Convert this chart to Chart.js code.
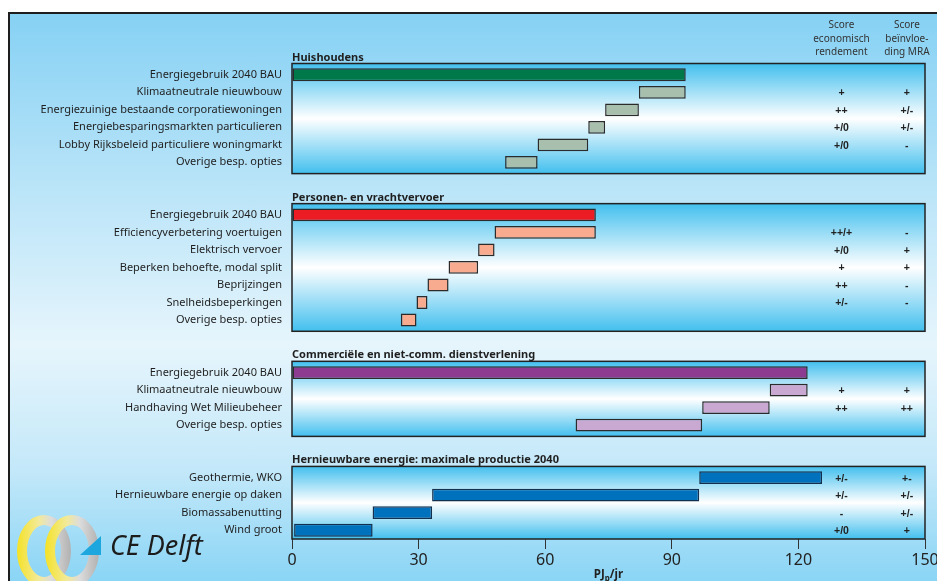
<!DOCTYPE html>
<html lang="nl">
<head>
<meta charset="utf-8">
<title>Besparingsopties en hernieuwbare energie 2040</title>
<script src="https://cdn.jsdelivr.net/npm/chart.js@4.4.1/dist/chart.umd.min.js"></script>
<style>
  html, body { margin: 0; padding: 0; background: #fff; overflow: hidden; }
  #wrap { position: relative; width: 937px; height: 581px; overflow: hidden; }
  #frame {
    position: absolute; left: 8px; top: 12px; right: -4px; bottom: -4px;
    border-left: 2px solid #1e1e1e; border-top: 2px solid #1e1e1e;
    background: linear-gradient(to bottom, #86d1f4 0%, #b9e4f8 30%, #e6f5fc 58%, #c3e8f9 80%, #88d4f5 100%);
  }
  #chartBox { position: absolute; left: 0; top: 0; width: 937px; height: 581px; }
</style>
</head>
<body>
<div id="wrap">
  <div id="frame"></div>
  <div id="chartBox"><canvas id="c"></canvas></div>
</div>
<script>
// ---- data (PJ per jaar) ----
const panelTitles = [
  'Huishoudens',
  'Personen- en vrachtvervoer',
  'Commerciële en niet-comm. dienstverlening',
  'Hernieuwbare energie: maximale productie 2040'
];

const householdLabels = ['Energiegebruik 2040 BAU', 'Klimaatneutrale nieuwbouw', 'Energiezuinige bestaande corporatiewoningen',
  'Energiebesparingsmarkten particulieren', 'Lobby Rijksbeleid particuliere woningmarkt', 'Overige besp. opties'];
const householdFrom = [0, 82.2, 74.2, 70.2, 58.2, 50.5];
const householdTo   = [93.3, 93.3, 82.2, 74.2, 70.2, 58.2];
const householdEcon = ['', '+', '++', '+/0', '+/0', ''];
const householdMra  = ['', '+', '+/-', '+/-', '-', ''];

const transportLabels = ['Energiegebruik 2040 BAU', 'Efficiencyverbetering voertuigen', 'Elektrisch vervoer',
  'Beperken behoefte, modal split', 'Beprijzingen', 'Snelheidsbeperkingen', 'Overige besp. opties'];
const transportFrom = [0, 48.0, 44.1, 37.1, 32.1, 29.5, 25.8];
const transportTo   = [72.0, 72.0, 48.0, 44.1, 37.1, 32.1, 29.5];
const transportEcon = ['', '++/+', '+/0', '+', '++', '+/-', ''];
const transportMra  = ['', '-', '+', '+', '-', '-', ''];

const servicesLabels = ['Energiegebruik 2040 BAU', 'Klimaatneutrale nieuwbouw', 'Handhaving Wet Milieubeheer', 'Overige besp. opties'];
const servicesFrom = [0, 113.2, 97.2, 67.2];
const servicesTo   = [122.2, 122.2, 113.2, 97.2];
const servicesEcon = ['', '+', '++', ''];
const servicesMra  = ['', '+', '++', ''];

const renewableLabels = ['Geothermie, WKO', 'Hernieuwbare energie op daken', 'Biomassabenutting', 'Wind groot'];
const renewableFrom = [96.5, 33.2, 19.1, 0.5];
const renewableTo   = [125.6, 96.5, 33.2, 19.1];
const renewableEcon = ['+/-', '+/-', '-', '+/0'];
const renewableMra  = ['+-', '+/-', '+/-', '+'];

const xTicks = [0, 30, 60, 90, 120, 150];
const scoreHeaders = [['Score', 'economisch', 'rendement'], ['Score', 'beïnvloe-', 'ding MRA']];

// ---- styling ----
const firstBarColors = ['#00794a', '#ec1c24', '#8d3b91', '#0071bc'];
const stepBarColors  = ['#a9bfad', '#f9ab90', '#c9a9d1', '#0071bc'];
const barEdgeColors  = ['#2b2b2b', '#2b2b2b', '#2b2b2b', '#14304f'];
const firstIsTotal   = [true, true, true, false];
const scoreColumnAt  = [130.2, 145.7];   // x-axis units
const SPACER_ROWS = 2;
const FONT = '"Noto Sans", "Open Sans", sans-serif';

// ---- build one category axis with spacer rows between the panels ----
const panels = [
  [householdLabels, householdFrom, householdTo, householdEcon, householdMra],
  [transportLabels, transportFrom, transportTo, transportEcon, transportMra],
  [servicesLabels, servicesFrom, servicesTo, servicesEcon, servicesMra],
  [renewableLabels, renewableFrom, renewableTo, renewableEcon, renewableMra]
];
const labels = [], ranges = [], fills = [], edges = [], econ = [], mra = [], panelRows = [];
panels.forEach(([lab, from, to, ec, mr], pi) => {
  if (pi > 0) {
    for (let g = 0; g < SPACER_ROWS; g++) {
      labels.push(''); ranges.push(null); fills.push('rgba(0,0,0,0)'); edges.push('rgba(0,0,0,0)');
      econ.push(''); mra.push('');
    }
  }
  const first = labels.length;
  lab.forEach((l, i) => {
    labels.push(l);
    ranges.push([from[i], to[i]]);
    fills.push(i === 0 && firstIsTotal[pi] ? firstBarColors[pi] : stepBarColors[pi]);
    edges.push(barEdgeColors[pi]);
    econ.push(ec[i]); mra.push(mr[i]);
  });
  panelRows.push([first, labels.length - 1]);
});

// panel boxes with gradient fill and titles
const panelPlugin = {
  id: 'panelBoxes',
  beforeDatasetsDraw(chart) {
    const { ctx, chartArea, scales: { x, y } } = chart;
    const half = (y.getPixelForValue(1) - y.getPixelForValue(0)) / 2;
    const left = x.getPixelForValue(0), right = x.getPixelForValue(150);
    panelRows.forEach(([a, b], pi) => {
      const top = y.getPixelForValue(a) - half - 2.5;
      const bottom = pi === panelRows.length - 1 ? chartArea.bottom : y.getPixelForValue(b) + half + 2.5;
      const g = ctx.createLinearGradient(0, top, 0, bottom);
      g.addColorStop(0, '#42bfee');
      g.addColorStop(0.5, '#ffffff');
      g.addColorStop(1, '#42bfee');
      ctx.save();
      ctx.fillStyle = g;
      ctx.fillRect(left, top, right - left, bottom - top);
      ctx.lineWidth = 1.5;
      ctx.strokeStyle = '#222';
      ctx.strokeRect(left, top, right - left, bottom - top);
      ctx.font = 'bold 11px ' + FONT;
      ctx.fillStyle = '#1f1f1f';
      ctx.textAlign = 'left';
      ctx.textBaseline = 'alphabetic';
      ctx.fillText(panelTitles[pi], left, top - 3);
      ctx.restore();
    });
  }
};

// score columns, their headers, the axis title and the logo
const annotatePlugin = {
  id: 'annotations',
  afterDraw(chart) {
    const { ctx, chartArea, scales: { x, y } } = chart;
    ctx.save();
    // headers
    ctx.font = '10px ' + FONT;
    ctx.fillStyle = '#333';
    ctx.textAlign = 'center';
    ctx.textBaseline = 'middle';
    scoreHeaders.forEach((lines, c) => {
      const cx = x.getPixelForValue(scoreColumnAt[c]);
      lines.forEach((t, k) => ctx.fillText(t, cx, 25.5 + k * 13.5));
    });
    // scores
    ctx.font = 'bold 10.5px "Liberation Sans", Arial, sans-serif';
    ctx.fillStyle = '#222';
    [econ, mra].forEach((col, c) => {
      const cx = x.getPixelForValue(scoreColumnAt[c]);
      col.forEach((t, i) => { if (t) ctx.fillText(t, cx, y.getPixelForValue(i) + 1); });
    });
    // axis title PJp/jr
    ctx.font = 'bold 11.5px ' + FONT;
    ctx.textAlign = 'left';
    ctx.textBaseline = 'alphabetic';
    const base = 578;
    const wPJ = ctx.measureText('PJ').width;
    ctx.font = 'bold 8px ' + FONT;
    const wp = ctx.measureText('p').width;
    ctx.font = 'bold 11.5px ' + FONT;
    const wjr = ctx.measureText('/jr').width;
    let tx = (chartArea.left + chartArea.right) / 2 - (wPJ + wp + wjr) / 2;
    ctx.fillText('PJ', tx, base); tx += wPJ;
    ctx.font = 'bold 8px ' + FONT;
    ctx.fillText('p', tx, base + 3); tx += wp;
    ctx.font = 'bold 11.5px ' + FONT;
    ctx.fillText('/jr', tx, base);
    // logo
    [[44, 551], [72, 551]].forEach(([cx, cy]) => {
      const g = ctx.createLinearGradient(cx - 26, 0, cx + 26, 0);
      g.addColorStop(0, '#f5e22a');
      g.addColorStop(0.4, '#f2ea9a');
      g.addColorStop(0.65, '#dcdcdc');
      g.addColorStop(1, '#b3b3b3');
      ctx.beginPath();
      ctx.ellipse(cx, cy, 22, 31, 0, 0, Math.PI * 2);
      ctx.lineWidth = 10;
      ctx.strokeStyle = g;
      ctx.stroke();
    });
    ctx.beginPath();
    ctx.moveTo(80, 555); ctx.lineTo(101, 536); ctx.lineTo(101, 555); ctx.closePath();
    ctx.fillStyle = '#1ea6df';
    ctx.fill();
    ctx.font = 'italic 27px ' + FONT;
    ctx.fillStyle = '#1c1c1c';
    ctx.fillText('CE Delft', 110, 555);
    ctx.restore();
  }
};

new Chart(document.getElementById('c'), {
  type: 'bar',
  data: {
    labels: labels,
    datasets: [{
      data: ranges,
      backgroundColor: fills,
      borderColor: edges,
      borderWidth: 1.5,
      borderSkipped: false,
      categoryPercentage: 1,
      barPercentage: 0.73
    }]
  },
  options: {
    indexAxis: 'y',
    responsive: true,
    maintainAspectRatio: false,
    animation: false,
    layout: { padding: { top: 66, right: 12, left: 0, bottom: 0 } },
    plugins: { legend: { display: false }, tooltip: { enabled: false } },
    scales: {
      y: {
        type: 'category',
        offset: true,
        grid: { display: false, drawTicks: false },
        border: { display: false },
        ticks: { autoSkip: false, padding: 10, color: '#1f1f1f', font: { family: FONT, size: 11 } },
        afterFit(s) { s.width = 292; s.paddingTop = 0; s.paddingBottom = 0; }
      },
      x: {
        min: 0, max: 150,
        afterBuildTicks(s) { s.ticks = xTicks.map(v => ({ value: v })); },
        grid: { drawOnChartArea: false, drawTicks: true, tickLength: 10, color: '#333', lineWidth: 1 },
        border: { display: false },
        ticks: { padding: 2, color: '#222', maxRotation: 0, autoSkip: false, font: { family: FONT, size: 16 } },
        afterFit(s) { s.height = 42; s.paddingLeft = 0; s.paddingRight = 0; }
      }
    }
  },
  plugins: [panelPlugin, annotatePlugin]
});
</script>
</body>
</html>
